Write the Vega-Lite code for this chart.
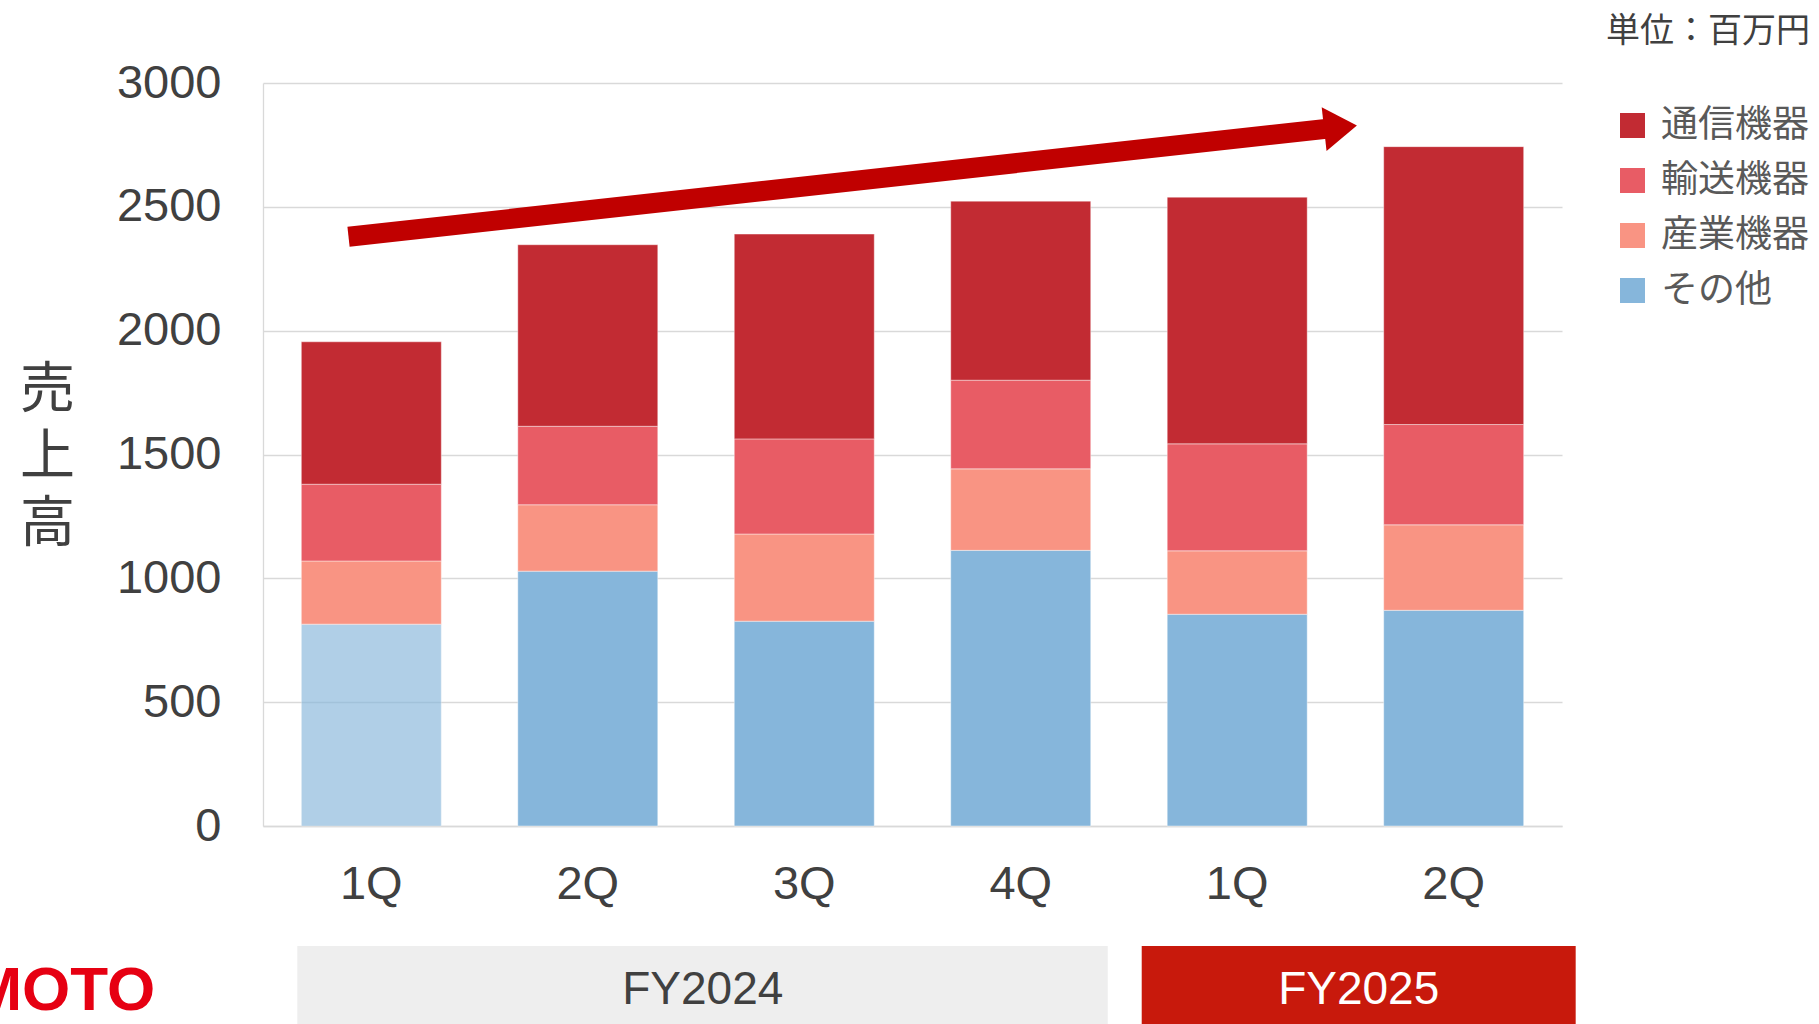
{
  "$schema": "https://vega.github.io/schema/vega-lite/v6.json",
  "autosize": {"type": "none"},
  "padding": {"left": 263, "top": 83, "right": 1556, "bottom": 941},
  "background": "white",
  "config": {"view": {"stroke": null}, "font": "Liberation Sans"},
  "bounds": "flush",
  "spacing": 120,
  "resolve": {"scale": {"x": "independent", "y": "independent"}},
  "vconcat": [
    {
      "width": 1299,
      "height": 743,
      "title": {"text": "単位：百万円", "anchor": "end", "frame": "group", "dx": 248, "offset": 10, "font": "Noto Sans CJK JP", "fontSize": 34, "fontWeight": "normal", "color": "#404040"},
      "layer": [
        {
          "data": {"values": [
            {"period": "FY2024-1Q", "segment": "その他", "value": 815},
            {"period": "FY2024-1Q", "segment": "産業機器", "value": 255},
            {"period": "FY2024-1Q", "segment": "輸送機器", "value": 310},
            {"period": "FY2024-1Q", "segment": "通信機器", "value": 575},
            {"period": "FY2024-2Q", "segment": "その他", "value": 1029},
            {"period": "FY2024-2Q", "segment": "産業機器", "value": 268},
            {"period": "FY2024-2Q", "segment": "輸送機器", "value": 317},
            {"period": "FY2024-2Q", "segment": "通信機器", "value": 733},
            {"period": "FY2024-3Q", "segment": "その他", "value": 827},
            {"period": "FY2024-3Q", "segment": "産業機器", "value": 352},
            {"period": "FY2024-3Q", "segment": "輸送機器", "value": 384},
            {"period": "FY2024-3Q", "segment": "通信機器", "value": 827},
            {"period": "FY2024-4Q", "segment": "その他", "value": 1113},
            {"period": "FY2024-4Q", "segment": "産業機器", "value": 329},
            {"period": "FY2024-4Q", "segment": "輸送機器", "value": 358},
            {"period": "FY2024-4Q", "segment": "通信機器", "value": 723},
            {"period": "FY2025-1Q", "segment": "その他", "value": 855},
            {"period": "FY2025-1Q", "segment": "産業機器", "value": 256},
            {"period": "FY2025-1Q", "segment": "輸送機器", "value": 432},
            {"period": "FY2025-1Q", "segment": "通信機器", "value": 996},
            {"period": "FY2025-2Q", "segment": "その他", "value": 871},
            {"period": "FY2025-2Q", "segment": "産業機器", "value": 345},
            {"period": "FY2025-2Q", "segment": "輸送機器", "value": 405},
            {"period": "FY2025-2Q", "segment": "通信機器", "value": 1122}
          ]},
          "mark": {"type": "bar", "stroke": "white", "strokeWidth": 0.7, "strokeOpacity": 0.6},
          "encoding": {
            "x": {
              "field": "period", "type": "nominal", "sort": null,
              "scale": {"paddingInner": 0.3533, "paddingOuter": 0.177},
              "axis": {"labelExpr": "slice(datum.label, -2)", "title": null, "labelAngle": 0, "labelFont": "Liberation Sans", "labelFontSize": 47, "labelColor": "#404040", "labelPadding": 35, "ticks": false, "tickSize": 0, "domain": true, "domainColor": "#d9d9d9", "domainWidth": 1.3}
            },
            "y": {
              "field": "value", "type": "quantitative", "stack": "zero",
              "scale": {"domain": [0, 3000], "nice": false},
              "title": ["売", "上", "高"],
              "axis": {"values": [0, 500, 1000, 1500, 2000, 2500, 3000], "format": "d", "grid": true, "gridColor": "#d9d9d9", "gridWidth": 1.3, "domain": true, "domainColor": "#d9d9d9", "domainWidth": 1.3, "ticks": false, "tickSize": 0, "labelFont": "Liberation Sans", "labelFontSize": 47, "labelColor": "#404040", "labelPadding": 42, "titleAngle": 0, "titleFont": "Noto Sans CJK JP", "titleFontSize": 55, "titleFontWeight": "normal", "titleColor": "#404040", "titleLineHeight": 67, "titleX": -216, "titleY": 306, "titleAlign": "center", "titleBaseline": "middle"}
            },
            "color": {
              "field": "segment", "type": "nominal",
              "scale": {"domain": ["通信機器", "輸送機器", "産業機器", "その他"], "range": ["#c22b33", "#e85c65", "#f99483", "#86b6db"]},
              "legend": {"orient": "none", "legendX": 1351, "legendY": 24, "title": null, "symbolType": "square", "symbolSize": 625, "symbolStrokeWidth": 0, "symbolOpacity": 1, "labelFont": "Noto Sans CJK JP", "labelFontSize": 37, "labelColor": "#595959", "labelOffset": 10, "rowPadding": 17}
            },
            "order": {"field": "segment", "sort": "ascending"},
            "opacity": {"condition": {"test": "datum.period === 'FY2024-1Q' && datum.segment === 'その他'", "value": 0.65}, "value": 1}
          }
        },
        {
          "data": {"values": [{"x_from": 0.395, "y_from": 2379, "x_to": 4.92, "y_to": 2816}]},
          "mark": {"type": "rule", "color": "#c00000", "strokeWidth": 20, "strokeCap": "butt"},
          "encoding": {
            "x": {"field": "x_from", "type": "quantitative", "scale": {"domain": [0, 6], "nice": false, "zero": false}, "axis": null},
            "x2": {"field": "x_to"},
            "y": {"field": "y_from", "type": "quantitative", "title": ["売", "上", "高"]},
            "y2": {"field": "y_to"}
          }
        },
        {
          "data": {"values": [{"x": 4.977, "y": 2821}]},
          "mark": {"type": "point", "shape": "M-0.75,-1L0.75,0L-0.75,1Z", "size": 1936, "filled": true, "color": "#c00000", "opacity": 1, "angle": 353.7, "strokeWidth": 0},
          "encoding": {
            "x": {"field": "x", "type": "quantitative", "scale": {"domain": [0, 6], "nice": false, "zero": false}, "axis": null},
            "y": {"field": "y", "type": "quantitative", "title": ["売", "上", "高"]}
          }
        }
      ],
      "resolve": {"scale": {"x": "independent"}, "axis": {"x": "independent"}}
    },
    {
      "width": 1299,
      "height": 80,
      "layer": [
        {
          "data": {"values": [{"fy": "FY2024", "first": "FY2024-1Q", "last": "FY2024-4Q"}]},
          "mark": {"type": "rect", "color": "#eeeeee", "xOffset": -4, "x2Offset": 17},
          "encoding": {
            "x": {"field": "first", "type": "nominal", "bandPosition": 0, "scale": {"domain": ["FY2024-1Q", "FY2024-2Q", "FY2024-3Q", "FY2024-4Q", "FY2025-1Q", "FY2025-2Q"], "paddingInner": 0.3533, "paddingOuter": 0.177}, "axis": null},
            "x2": {"field": "last", "bandPosition": 1}
          }
        },
        {
          "data": {"values": [{"fy": "FY2024", "first": "FY2024-1Q", "last": "FY2024-4Q"}]},
          "mark": {"type": "text", "color": "#404040", "font": "Liberation Sans", "fontSize": 46, "align": "center", "baseline": "middle", "xOffset": 401.5, "dy": 4},
          "encoding": {
            "x": {"field": "first", "type": "nominal", "bandPosition": 0, "axis": null},
            "text": {"field": "fy"}
          }
        },
        {
          "data": {"values": [{"fy": "FY2025", "first": "FY2025-1Q", "last": "FY2025-2Q"}]},
          "mark": {"type": "rect", "color": "#c8190c", "xOffset": -25.5, "x2Offset": 52},
          "encoding": {
            "x": {"field": "first", "type": "nominal", "bandPosition": 0, "axis": null},
            "x2": {"field": "last", "bandPosition": 1}
          }
        },
        {
          "data": {"values": [{"fy": "FY2025", "first": "FY2025-1Q", "last": "FY2025-2Q"}]},
          "mark": {"type": "text", "color": "white", "font": "Liberation Sans", "fontSize": 46, "align": "center", "baseline": "middle", "xOffset": 191.5, "dy": 4},
          "encoding": {
            "x": {"field": "first", "type": "nominal", "bandPosition": 0, "axis": null},
            "text": {"field": "fy"}
          }
        },
        {
          "data": {"values": [{"logo": "MOTO", "first": "FY2024-1Q"}]},
          "mark": {"type": "text", "color": "#e60012", "font": "Liberation Sans", "fontWeight": "bold", "fontSize": 62, "align": "right", "baseline": "middle", "xOffset": -146, "dy": 5},
          "encoding": {
            "x": {"field": "first", "type": "nominal", "bandPosition": 0, "axis": null},
            "text": {"field": "logo"}
          }
        }
      ]
    }
  ]
}
